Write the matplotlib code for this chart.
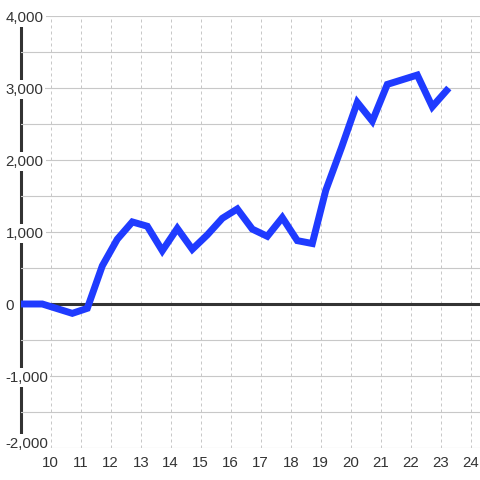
import matplotlib
matplotlib.use("Agg")
import matplotlib.pyplot as plt
import matplotlib.transforms as mtransforms
from matplotlib.ticker import MultipleLocator, FuncFormatter

hours = [9.0, 9.72, 10.72, 11.22, 11.72, 12.22, 12.72, 13.22, 13.72, 14.22,
         14.72, 15.22, 15.72, 16.22, 16.72, 17.22, 17.72, 18.22, 18.72, 19.17,
         19.7, 20.22, 20.72, 21.22, 22.22, 22.72, 23.27]
values = [0, 0, -130, -60, 530, 900, 1140, 1080, 740, 1050,
          760, 960, 1190, 1320, 1040, 940, 1200, 880, 840, 1580,
          2180, 2800, 2540, 3050, 3180, 2740, 3000]
xticks = list(range(10, 25))
yticks = list(range(-2000, 4001, 1000))

plt.rcParams['font.family'] = ['Liberation Sans', 'DejaVu Sans']

fig = plt.figure(figsize=(4.8, 4.8), dpi=100)
ax = fig.add_axes([20.7 / 480, 32 / 480, 1 - 20.7 / 480, 432 / 480])
ax.set_xlim(9.0, 24.31)
ax.set_ylim(-2000, 4000)

for s in ['top', 'right', 'bottom']:
    ax.spines[s].set_visible(False)
ax.spines['left'].set_linewidth(2.2)
ax.spines['left'].set_color('#333333')

ax.set_xticks(xticks)
ax.set_yticks(yticks)
ax.yaxis.set_minor_locator(MultipleLocator(500))
ax.yaxis.set_major_formatter(FuncFormatter(lambda v, p: '{:,.0f}'.format(v)))

ax.tick_params(axis='both', which='both', length=0, labelsize=10.8, labelcolor='#333333')
ax.tick_params(axis='y', pad=11)
ax.tick_params(axis='x', pad=6)
for lab in ax.get_yticklabels():
    lab.set_horizontalalignment('left')
    lab.set_bbox(dict(facecolor='white', edgecolor='none', pad=1.5))

# lowest label sits a little higher, clear of the x labels
low = ax.yaxis.get_major_ticks()[0].label1
low.set_transform(low.get_transform() +
                  mtransforms.ScaledTranslation(0, 6 / 100, fig.dpi_scale_trans))

ax.grid(axis='y', which='both', color='#c8c8c8', linewidth=0.8)
ax.grid(axis='x', color='#c8c8c8', linewidth=0.72, linestyle=(0, (3, 3)))
ax.yaxis.set_zorder(3)

ax.axhline(0, color='#333333', linewidth=2.2, zorder=3.5)
ax.plot(hours, values, color='#1f3bff', linewidth=5, zorder=4,
        solid_joinstyle='miter', solid_capstyle='butt')

fig.savefig('out.png', dpi=100)
